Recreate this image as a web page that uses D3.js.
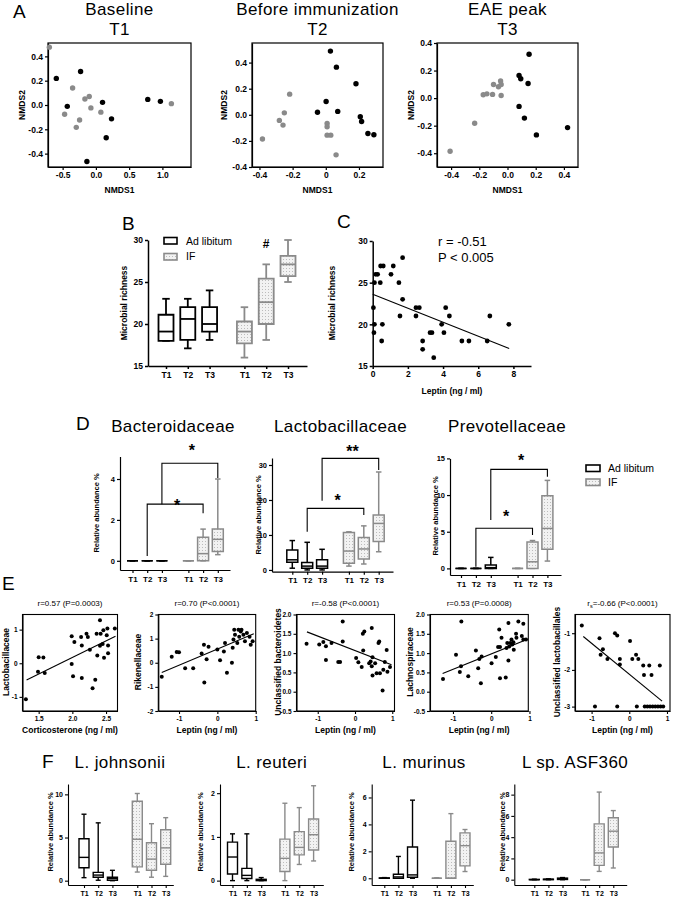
<!DOCTYPE html>
<html><head><meta charset="utf-8">
<script src="https://cdn.jsdelivr.net/npm/d3@7"></script>
<style>body{margin:0;background:#fff}</style>
</head><body><script>
// ---------------- DATA ----------------
const timepoints = ["T1","T2","T3"];
const groupNames = ["Ad libitum","IF"];
const nmdsTitles = [["Baseline","T1"],["Before immunization","T2"],["EAE peak","T3"]];

// Panel A: NMDS [NMDS1, NMDS2]
const nmdsT1AdLib = [[-0.595,0.219],[-0.43,-0.011],[-0.23,0.276],[-0.135,-0.465],[0.10,0.022],[0.155,-0.27],[0.235,-0.114],[0.78,0.046],[0.97,0.030]];
const nmdsT1IF = [[-0.70,0.476],[-0.47,-0.076],[-0.35,0.14],[-0.295,-0.184],[-0.245,-0.124],[-0.165,0.049],[-0.10,0.07],[-0.075,-0.024],[0.075,-0.059],[1.135,0.011]];
const nmdsT2AdLib = [[-0.05,0.02],[0.002,0.102],[0.028,0.488],[0.064,0.365],[0.072,0.026],[0.182,0.238],[0.208,-0.015],[0.216,-0.051],[0.254,-0.143],[0.29,-0.153]];
const nmdsT2IF = [[-0.382,-0.186],[-0.28,-0.043],[-0.258,-0.079],[-0.25,0.015],[-0.218,0.158],[0.008,-0.066],[0.008,-0.092],[0.008,-0.156],[0.03,-0.156],[0.062,-0.307]];
const nmdsT3AdLib = [[0.082,0.164],[0.094,0.14],[0.082,-0.06],[0.12,-0.145],[0.146,0.106],[0.153,0.318],[0.205,-0.267],[0.426,-0.214]];
const nmdsT3IF = [[-0.407,-0.386],[-0.233,-0.183],[-0.172,0.024],[-0.146,0.031],[-0.106,0.027],[-0.099,0.099],[-0.064,0.082],[-0.049,0.125],[-0.045,0.099],[-0.045,0.019]];

// Panel B: microbial richness boxes [min, q1, median, q3, max]
const richnessAdLib = [[18,18,19.1,21.1,23],[17.1,18.1,20.6,22,23],[18.1,19.1,20,22,24]];
const richnessIF = [[16,17.7,19.1,20.3,22],[18.1,20,22.6,25.4,27.1],[25,25.7,27.1,28.1,30]];

// Panel C: leptin vs richness
const leptinC = [0.04,0.1,0.55,0.17,0.28,0.1,0.43,0.45,0.6,1.04,1.17,1.49,1.70,1.70,1.55,2.46,2.65,2.46,4.15,4.36,3.92,6.66,7.74,0.07,0.51,2.84,2.84,3.26,3.37,4.05,3.47,5.07,5.47,6.51];
const richnessC = [22,20,20,26,26,25,25,27,27,26,27,25,28,23,21,22,22,21,22,21,20,21,20,19,18,18,17,19,19,19,16,18,18,18];
const fitC = [[0,23.6],[7.76,17.1]];

// Panel D: relative abundance % boxes
const bacteroidAdLib = [[0,0,0,0,0],[0,0,0,0,0],[0,0,0,0,0]];
const bacteroidIF = [[0,0,0,0,0],[0,0,0.35,1.15,1.55],[0.3,0.45,1.05,1.55,4.0]];
const lactoAdLib = [[0.5,2.2,2.9,5.7,8.4],[0,0.5,1.1,2.1,7.9],[0,0.5,1.1,2.9,5.9]];
const lactoIF = [[1.1,1.9,5.4,10.7,10.9],[1.7,3.1,6.0,9.3,12.6],[5.2,8.1,13.3,15.7,28]];
const prevoAdLib = [[0,0,0,0,0],[0,0,0,0,0],[0,0,0.1,0.45,1.5]];
const prevoIF = [[0,0,0,0,0],[0,0,0.9,3.6,3.8],[1.0,2.6,5.45,9.9,12.0]];

// Panel E: correlations
const corticoE1 = [1.31,1.49,1.59,1.50,1.57,1.99,2.01,1.99,2.03,2.13,2.14,2.14,2.21,2.23,2.26,2.30,2.34,2.36,2.37,2.41,2.42,2.45,2.47,2.51,2.53,2.53,2.46,2.41,2.52,2.63];
const lactoE1 = [-1.07,-0.25,-0.29,0.18,0.17,-0.02,-0.39,0.80,0.63,0.78,0.53,-0.44,0.88,0.78,0.40,-0.74,-0.49,0.88,0.23,0.52,0.88,0.57,0.16,0.83,0.53,0.30,0.98,1.28,1.03,1.03];
const fitE1 = [[1.32,-0.5],[2.64,0.8]];
const leptinE2 = [-1.45,-1.19,-1.06,-1.00,-0.84,-0.63,-0.41,-0.35,-0.23,-0.28,-0.34,0.00,0.07,0.17,0.20,0.25,0.38,0.40,0.42,0.46,0.52,0.57,0.61,0.68,0.72,0.77,0.84,0.87,0.92,0.44,0.63,0.55];
const rikenE2 = [-0.58,0.25,0.45,0.44,-0.23,-0.23,0.38,0.75,0.66,0.14,-0.82,0.55,0.10,0.47,0.82,-0.41,0.00,0.62,0.96,1.16,0.82,1.08,1.30,1.16,0.89,1.23,1.08,0.75,0.89,1.37,1.37,1.37];
const fitE2 = [[-1.45,-0.4],[0.95,1.2]];
const leptinE3 = [-1.30,-0.96,-0.85,-0.78,-0.63,-0.78,-0.45,-0.33,-0.40,0.03,0.09,0.18,0.22,0.21,0.25,0.38,0.42,0.47,0.45,0.47,0.54,0.58,0.63,0.65,0.67,0.74,0.76,0.80,0.85,0.87,0.94,-0.33,0.45];
const bacterE3 = [1.24,1.22,1.29,1.18,1.26,0.82,0.77,1.30,0.77,0.87,0.76,0.64,1.07,1.50,1.56,0.74,0.78,0.89,0.66,0.42,0.74,0.48,1.26,1.30,0.48,0.03,0.57,0.77,1.08,0.52,0.64,1.82,1.65];
const fitE3 = [[-1.29,1.55],[0.98,0.70]];
const leptinE4 = [-1.26,-0.92,-0.82,-0.79,-0.60,-0.40,-0.34,-0.31,-0.25,-0.27,0.01,0.12,0.18,0.23,0.23,0.27,0.38,0.40,0.42,0.45,0.47,0.50,0.53,0.55,0.58,0.59,0.65,0.66,0.80,0.84,0.91,-0.78,0.21,0.45,0.71,0.84];
const lachnoE4 = [0.33,0.96,0.51,0.66,0.40,1.07,0.61,0.85,0.91,0.22,0.74,0.90,1.16,0.35,1.16,1.40,0.37,1.13,1.26,0.81,1.17,1.26,1.35,1.22,1.28,1.09,1.50,1.40,1.44,1.35,1.35,1.82,1.61,1.78,1.82,1.76];
const fitE4 = [[-1.27,0.47],[0.95,1.36]];
const leptinE5 = [-1.26,-0.91,-0.79,-0.76,-0.70,-0.58,-0.38,-0.32,-0.32,-0.25,-0.25,0.02,0.08,0.18,0.20,0.24,0.37,0.39,0.53,0.59,0.81,0.41,0.48,0.55,0.62,0.69,0.76,0.83,0.90];
const lactobE5 = [-0.79,-3.0,-1.14,-1.59,-1.44,-1.70,-1.00,-1.06,-3.0,-1.70,-1.85,-1.21,-1.70,-1.59,-3.0,-1.70,-1.88,-2.14,-1.88,-2.14,-1.88,-3,-3,-3,-3,-3,-3,-3,-3];
const fitE5 = [[-1.22,-1.09],[0.87,-2.85]];
const corrTitles = ["r=0.57 (P=0.0003)","r=0.70 (P<0.0001)","r=-0.58 (P<0.0001)","r=0.53 (P=0.0008)","=-0.66 (P<0.0001)"];

// Panel F: species relative abundance % boxes
const johnsoniiAdLib = [[0.35,1.5,2.7,4.85,7.7],[0.05,0.4,0.65,0.96,6.7],[0,0.05,0.25,0.4,1.2]];
const johnsoniiIF = [[1.0,1.6,4.8,9.2,10.1],[0.4,1.2,2.5,4.4,6.6],[0.5,1.9,3.8,5.9,7.3]];
const reuteriAdLib = [[0,0.15,0.54,0.88,1.07],[0,0.05,0.12,0.28,1.07],[0,0,0.01,0.03,0.07]];
const reuteriIF = [[0,0.21,0.51,0.95,1.77],[0.37,0.59,0.76,1.12,1.67],[0.45,0.70,1.05,1.41,2.17]];
const murinusAdLib = [[0,0,0,0.03,0.05],[0,0,0.1,0.3,1.62],[0,0.07,0.25,2.32,5.8]];
const murinusIF = [[0,0,0,0,0.03],[0,0,0,2.75,4.8],[0.5,0.92,2.42,3.37,3.62]];
const asf360AdLib = [[0,0,0,0.03,0.05],[0,0,0.03,0.05,0.08],[0,0.02,0.08,0.15,0.2]];
const asf360IF = [[0,0,0,0,0],[0.78,1.35,2.52,5.25,8.24],[1.1,3.08,4.56,5.82,6.5]];

// ---------------- DRAWING ----------------
const FONT = '"Liberation Sans", Arial, Helvetica, sans-serif';
const GRAY = '#8a8a8a';
const svg = d3.select('body').append('svg').attr('width',673).attr('height',900).style('background','#fff');
const defs = svg.append('defs');
const pat = defs.append('pattern').attr('id','dots').attr('width',3).attr('height',3).attr('patternUnits','userSpaceOnUse');
pat.append('rect').attr('width',3).attr('height',3).attr('fill','#f2f2f2');
pat.append('rect').attr('x',1).attr('y',1).attr('width',1).attr('height',1).attr('fill','#bcbcbc');

const fix = s => s.replace('\u2212','-');
const f1 = d => fix(d3.format('.1f')(d));
const f0 = d => fix(d3.format('d')(d));

function txt(x,y,s,o={}){
  const t = svg.append('text').attr('x',x).attr('y',y).text(s)
    .attr('font-family',FONT).attr('font-size',o.size||10).attr('font-weight',o.weight||'normal')
    .attr('text-anchor',o.anchor||'middle').attr('fill',o.fill||'#000');
  if(o.ls) t.attr('letter-spacing',o.ls);
  if(o.rotate) t.attr('transform',`rotate(-90,${x},${y})`);
  return t;
}
function styleAxis(a,size,sw){
  a.selectAll('text').attr('font-family',FONT).attr('font-size',size).attr('font-weight','bold').attr('fill','#000');
  a.selectAll('line').attr('stroke','#000').attr('stroke-width',sw||1.1);
  a.select('.domain').attr('stroke','#000').attr('stroke-width',sw||1.1);
}

function scatter(c){
  const g = svg.append('g');
  const x = d3.scaleLinear().domain(c.xDomain).range([c.left,c.right]);
  const y = d3.scaleLinear().domain(c.yDomain).range([c.bottom,c.top]);
  g.append('g').attr('transform',`translate(0,${c.bottom})`)
    .call(d3.axisBottom(x).tickValues(c.xTicks).tickSize(3).tickSizeOuter(0).tickPadding(c.pad||2).tickFormat(c.xFmt))
    .call(a=>styleAxis(a,c.fs,c.sw));
  g.append('g').attr('transform',`translate(${c.left},0)`)
    .call(d3.axisLeft(y).tickValues(c.yTicks).tickSize(3).tickSizeOuter(0).tickPadding(c.pad||2).tickFormat(c.yFmt))
    .call(a=>styleAxis(a,c.fs,c.sw));
  if(c.frame) g.append('rect').attr('x',c.left).attr('y',c.top).attr('width',c.right-c.left).attr('height',c.bottom-c.top)
    .attr('fill','none').attr('stroke','#000').attr('stroke-width',c.sw||1.1);
  if(c.fit) g.append('line').attr('x1',x(c.fit[0][0])).attr('y1',y(c.fit[0][1])).attr('x2',x(c.fit[1][0])).attr('y2',y(c.fit[1][1]))
    .attr('stroke','#000').attr('stroke-width',1.1);
  c.series.forEach(s=>{
    g.append('g').selectAll('circle').data(s.pts).join('circle')
      .attr('cx',d=>x(d[0])).attr('cy',d=>y(d[1])).attr('r',c.r).attr('fill',s.color);
  });
  return {x,y};
}

function drawBox(g,cx,v,w,color,fill,y,sw){
  const [mn,q1,md,q3,mx]=v, cap=w*0.5;
  const ln=(x1,y1,x2,y2)=>g.append('line').attr('x1',x1).attr('y1',y1).attr('x2',x2).attr('y2',y2).attr('stroke',color).attr('stroke-width',sw);
  ln(cx,y(mx),cx,y(q3)); ln(cx,y(q1),cx,y(mn));
  ln(cx-cap/2,y(mx),cx+cap/2,y(mx)); ln(cx-cap/2,y(mn),cx+cap/2,y(mn));
  g.append('path').attr('d',`M${cx-w/2},${y(q3)}H${cx+w/2}V${y(q1)}H${cx-w/2}Z`)
    .attr('fill',fill).attr('stroke',color).attr('stroke-width',sw).attr('stroke-linejoin','miter');
  ln(cx-w/2,y(md),cx+w/2,y(md));
}

function boxPanel(c){
  const g = svg.append('g');
  const gp=c.gap, pos=[0,1,2,gp,gp+1,gp+2];
  const xc = d3.scaleLinear().domain([0,gp+2]).range([c.c0,c.c1]);
  const x = d3.scaleLinear().domain([xc.invert(c.left),xc.invert(c.right)]).range([c.left,c.right]);
  const y = d3.scaleLinear().domain(c.yDomain).range([c.bottom,c.top]);
  g.append('g').attr('transform',`translate(${c.left},0)`)
    .call(d3.axisLeft(y).tickValues(c.yTicks).tickSize(3).tickSizeOuter(0).tickPadding(2).tickFormat(c.yFmt||f0))
    .call(a=>styleAxis(a,c.fs,c.asw));
  g.append('g').attr('transform',`translate(0,${c.bottom})`)
    .call(d3.axisBottom(x).tickValues(pos).tickSize(3).tickSizeOuter(0).tickPadding(c.xpad||3).tickFormat((d,i)=>timepoints[i%3]))
    .call(a=>styleAxis(a,c.fsx||c.fs,c.asw));
  [[c.adlib,'#000','#fff'],[c.ifv,GRAY,'url(#dots)']].forEach(([vals,col,fill],gi)=>
    vals.forEach((v,i)=>drawBox(g,x(pos[gi*3+i]),v,c.bw,col,fill,y,c.bsw)));
  return {g,x,y,pos};
}

function bracket(p,i,j,yTop,yL,yR,star,starY){
  const xi=p.x(p.pos[i]), xj=p.x(p.pos[j]);
  p.g.append('path').attr('d',`M${xi},${p.y(yL)}V${p.y(yTop)}H${xj}V${p.y(yR)}`)
    .attr('fill','none').attr('stroke','#000').attr('stroke-width',1.1);
  txt((xi+xj)/2+2,p.y(starY)+9,star,{size:16,weight:'bold'});
}

// ===== Panel A =====
txt(13,18,'A',{size:19,anchor:'start'});
const aSpecs = [
  {left:48,right:191,xDomain:[-0.72,1.43],yDomain:[-0.51,0.51],xTicks:[-0.5,0,0.5,1.0],xFmt:f1,yTicks:[-0.4,-0.2,0,0.2,0.4],
   ad:nmdsT1AdLib,ifp:nmdsT1IF,ylx:25},
  {left:252,right:383,xDomain:[-0.445,0.345],yDomain:[-0.4,0.55],xTicks:[-0.4,-0.2,0,0.2],xFmt:d=>d===0?'0':f1(d),yTicks:[-0.4,-0.2,0,0.2,0.4],
   ad:nmdsT2AdLib,ifp:nmdsT2IF,ylx:227},
  {left:437,right:578,xDomain:[-0.5,0.5],yDomain:[-0.5,0.4],xTicks:[-0.4,-0.2,0,0.2,0.4],xFmt:f1,yTicks:[-0.4,-0.2,0,0.2,0.4],
   ad:nmdsT3AdLib,ifp:nmdsT3IF,ylx:414}
];
aSpecs.forEach((s,i)=>{
  scatter({left:s.left,right:s.right,top:43,bottom:167,xDomain:s.xDomain,yDomain:s.yDomain,xTicks:s.xTicks,yTicks:s.yTicks,
    xFmt:s.xFmt,yFmt:f1,fs:8.5,frame:true,r:2.7,sw:1.2,
    series:[{pts:s.ifp,color:GRAY},{pts:s.ad,color:'#000'}]});
  txt((s.left+s.right)/2,15,nmdsTitles[i][0],{size:17,ls:0.4});
  txt((s.left+s.right)/2,35,nmdsTitles[i][1],{size:17,ls:0.4});
  txt(s.ylx,105,'NMDS2',{size:8.5,weight:'bold',rotate:true});
  txt((s.left+s.right)/2,193,'NMDS1',{size:8.5,weight:'bold'});
});

// ===== Panel B =====
txt(122,230,'B',{size:19,anchor:'start'});
const pB = boxPanel({left:148,right:307,top:240,bottom:366,yDomain:[15,30],yTicks:[15,20,25,30],c0:166,c1:288,gap:3.6,
  adlib:richnessAdLib,ifv:richnessIF,bw:15,bsw:1.8,fs:8.5,fsx:8.5,asw:1.5});
txt(127,303,'Microbial richness',{size:8.5,weight:'bold',rotate:true});
txt(pB.x(pB.pos[4]),248,'#',{size:12,weight:'bold'});
svg.append('rect').attr('x',164).attr('y',237.5).attr('width',13).attr('height',6.5).attr('fill','#fff').attr('stroke','#000').attr('stroke-width',1.6);
svg.append('rect').attr('x',164).attr('y',253.5).attr('width',13).attr('height',6.5).attr('fill','url(#dots)').attr('stroke',GRAY).attr('stroke-width',1.6);
txt(186,244.5,groupNames[0],{size:10.5,anchor:'start'});
txt(186,260,groupNames[1],{size:10.5,anchor:'start'});

// ===== Panel C =====
txt(337,228,'C',{size:19,anchor:'start'});
scatter({left:372.7,right:531,top:241,bottom:366,xDomain:[0,9],yDomain:[15,30],xTicks:[0,2,4,6,8],yTicks:[15,20,25,30],
  xFmt:f0,yFmt:f0,fs:8.5,r:2.4,sw:1.5,fit:fitC,series:[{pts:d3.zip(leptinC,richnessC),color:'#000'}]});
txt(335,303,'Microbial richness',{size:8.5,weight:'bold',rotate:true});
txt(452,394,'Leptin (ng / ml)',{size:8.5,weight:'bold'});
txt(438,246,'r = -0.51',{size:13,anchor:'start'});
txt(438,262,'P < 0.005',{size:13,anchor:'start'});

// ===== Panel D =====
txt(76,430,'D',{size:19,anchor:'start'});
const dTitles=[['Bacteroidaceae',173],['Lactobacillaceae',340.5],['Prevotellaceae',507]];
dTitles.forEach(([t,cx])=>txt(cx,431.5,t,{size:17,ls:0.4}));
const pD1 = boxPanel({left:120,right:230,top:456.5,bottom:570,yDomain:[-0.45,5.1],yTicks:[0,2,4],c0:132.5,c1:217.8,gap:3.8,
  adlib:bacteroidAdLib,ifv:bacteroidIF,bw:11,bsw:1.5,fs:7.5,fsx:8,asw:1.2});
bracket(pD1,2,5,4.77,2.77,4.05,'*',5.56);
bracket(pD1,1,4,2.77,0.24,2.33,'*',2.86);
const pD2 = boxPanel({left:272,right:393,top:458,bottom:571.7,yDomain:[-0.5,32],yTicks:[0,10,20,30],c0:292.3,c1:378.7,gap:3.8,
  adlib:lactoAdLib,ifv:lactoIF,bw:11,bsw:1.5,fs:7.5,fsx:8,asw:1.2});
bracket(pD2,2,5,31.9,19.8,28.6,'**',35);
bracket(pD2,1,4,17.6,10.9,15.7,'*',20.9);
const pD3 = boxPanel({left:450,right:561,top:458.4,bottom:575,yDomain:[-0.9,15],yTicks:[0,5,10,15],c0:461,c1:547.4,gap:3.8,
  adlib:prevoAdLib,ifv:prevoIF,bw:11,bsw:1.5,fs:7.5,fsx:8,asw:1.2});
bracket(pD3,2,5,13.5,6.6,12.5,'*',15.2);
bracket(pD3,1,4,5.47,0.23,4.56,'*',7.56);
[[99,513],[261,515],[437.5,516]].forEach(([x,y])=>txt(x,y,'Relative abundance %',{size:7.5,weight:'bold',rotate:true}));
svg.append('rect').attr('x',586).attr('y',465).attr('width',14).attr('height',6.5).attr('fill','#fff').attr('stroke','#000').attr('stroke-width',1.6);
svg.append('rect').attr('x',586).attr('y',479).attr('width',14).attr('height',6.5).attr('fill','url(#dots)').attr('stroke',GRAY).attr('stroke-width',1.6);
txt(608,472,groupNames[0],{size:10.5,anchor:'start'});
txt(608,486,groupNames[1],{size:10.5,anchor:'start'});

// ===== Panel E =====
txt(2,590,'E',{size:19,anchor:'start'});
const eSpecs = [
  {left:22.5,right:117.5,xDomain:[1.26,2.67],yDomain:[-1.42,1.45],xTicks:[1.5,2.0,2.5],xFmt:f1,yTicks:[-1,0,1],yFmt:f0,
   pts:d3.zip(corticoE1,lactoE1),fit:fitE1,xl:'Corticosterone (ng / ml)',yl:'Lactobacillaceae',ylx:9},
  {left:158.3,right:255.7,xDomain:[-1.54,1.0],yDomain:[-2,2],xTicks:[-1,0,1],xFmt:f0,yTicks:[-2,-1,0,1,2],yFmt:f0,
   pts:d3.zip(leptinE2,rikenE2),fit:fitE2,xl:'Leptin (ng / ml)',yl:'Rikenellaceae',ylx:141},
  {left:296.5,right:394.5,xDomain:[-1.57,1.06],yDomain:[-0.5,2.0],xTicks:[-1,0,1],xFmt:f0,yTicks:[-0.5,0,0.5,1,1.5,2],yFmt:f1,
   pts:d3.zip(leptinE3,bacterE3),fit:fitE3,xl:'Leptin (ng / ml)',yl:'Unclassified bacteroidetes',ylx:281},
  {left:430,right:528.3,xDomain:[-1.6,0.97],yDomain:[-0.5,2.0],xTicks:[-1,0,1],xFmt:f0,yTicks:[-0.5,0,0.5,1,1.5,2],yFmt:f1,
   pts:d3.zip(leptinE4,lachnoE4),fit:fitE4,xl:'Leptin (ng / ml)',yl:'Lachnospiraceae',ylx:413},
  {left:575,right:670,xDomain:[-1.44,1.08],yDomain:[-3.12,-0.49],xTicks:[-1,0,1],xFmt:f0,yTicks:[-3,-2,-1],yFmt:f0,
   pts:d3.zip(leptinE5,lactobE5),fit:fitE5,xl:'Leptin (ng / ml)',yl:'Unclassified lactobacillales',ylx:560}
];
eSpecs.forEach((s,i)=>{
  scatter({left:s.left,right:s.right,top:614.5,bottom:711,xDomain:s.xDomain,yDomain:s.yDomain,xTicks:s.xTicks,yTicks:s.yTicks,
    xFmt:s.xFmt,yFmt:s.yFmt,fs:6.5,frame:true,r:2,sw:1.1,fit:s.fit,series:[{pts:s.pts,color:'#000'}]});
  const cx=(s.left+s.right)/2;
  if(i<4) txt(cx,606,corrTitles[i],{size:8});
  else {
    const t=txt(cx,606,'r',{size:8});
    t.append('tspan').attr('font-size',5.5).attr('dy',2).text('s');
    t.append('tspan').attr('dy',-2).text(corrTitles[i]);
  }
  txt(cx,733,s.xl,{size:8.5,weight:'bold'});
  txt(s.ylx,662,s.yl,{size:8.5,weight:'bold',rotate:true});
});

// ===== Panel F =====
txt(42,768,'F',{size:19,anchor:'start'});
const fSpecs = [
  {name:'L. johnsonii',cx:120,left:68,right:173.3,yDomain:[-0.5,11.2],yTicks:[0,5,10],c0:84,c1:165.7,gap:3.75,ad:johnsoniiAdLib,ifv:johnsoniiIF,ylx:52.5},
  {name:'L. reuteri',cx:271.7,left:220,right:323.3,yDomain:[-0.1,2.21],yTicks:[0,1,2],c0:232.5,c1:313.6,gap:3.65,ad:reuteriAdLib,ifv:reuteriIF,ylx:203},
  {name:'L. murinus',cx:424,left:371.7,right:473.3,yDomain:[-0.5,7],yTicks:[0,2,4,6],c0:384.3,c1:465,gap:3.72,ad:murinusAdLib,ifv:murinusIF,ylx:354},
  {name:'L sp. ASF360',cx:575,left:514.3,right:626.7,yDomain:[-0.5,9],yTicks:[0,2,4,6,8],c0:534.3,c1:613.3,gap:3.6,ad:asf360AdLib,ifv:asf360IF,ylx:505}
];
fSpecs.forEach(s=>{
  txt(s.cx,767.5,s.name,{size:17,ls:0.4});
  boxPanel({left:s.left,right:s.right,top:784,bottom:885,yDomain:s.yDomain,yTicks:s.yTicks,c0:s.c0,c1:s.c1,gap:s.gap,
    adlib:s.ad,ifv:s.ifv,bw:10,bsw:1.4,fs:7,asw:1.1});
  txt(s.ylx,832,'Relative abundance %',{size:7.5,weight:'bold',rotate:true});
});
</script></body></html>
